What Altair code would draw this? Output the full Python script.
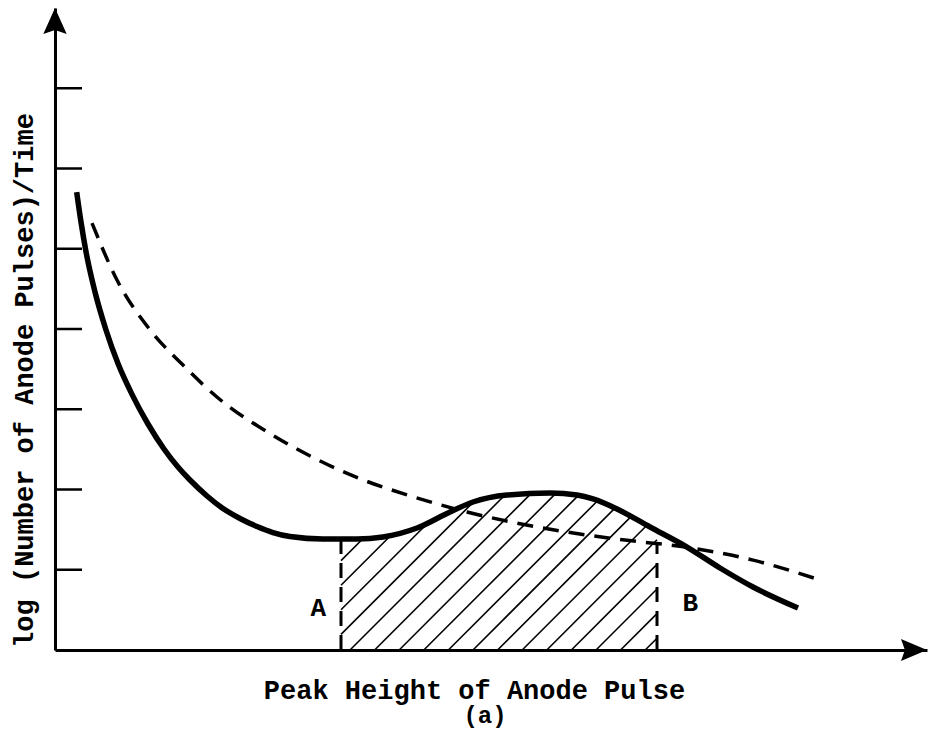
import numpy as np
import pandas as pd
import altair as alt

# ---------------- data ----------------
solid_x = [0.271, 0.325, 0.3875, 0.5, 0.6375, 0.7875, 0.9625, 1.1625, 1.3625, 1.5375,
           1.6875, 1.9, 2.1, 2.3125, 2.525, 2.725, 2.9375, 3.35, 3.775, 4.1, 4.525,
           4.9375, 5.225, 5.65, 6.1875, 6.525, 6.725, 7.025, 7.4375, 7.9, 8.3125,
           8.725, 9.2875]
solid_y = [5.707, 5.333, 4.963, 4.461, 3.988, 3.569, 3.185, 2.816, 2.505, 2.280,
           2.118, 1.919, 1.763, 1.639, 1.539, 1.464, 1.414, 1.383, 1.383, 1.408, 1.520,
           1.720, 1.844, 1.931, 1.956, 1.931, 1.882, 1.757, 1.533, 1.283, 1.022,
           0.785, 0.523]

dashed_x = [0.4625, 0.775, 1.1875, 1.6, 2.1, 2.65, 3.225, 3.85, 4.475, 5.15, 5.775,
            6.4, 7.125, 7.9, 8.725, 9.5375]
dashed_y = [5.32, 4.61, 3.99, 3.55, 3.09, 2.72, 2.40, 2.12, 1.91, 1.72, 1.58,
            1.47, 1.37, 1.28, 1.12, 0.88]

y_ticks = [1, 2, 3, 4, 5, 6, 7]

A_x = 3.575
B_x = 7.525
label_text = ["A", "B"]
label_x = [3.29, 7.94]
label_y = [0.52, 0.59]

hatch_first = 3.6875     # first hatch line crossing of the baseline
hatch_step = 0.3075      # spacing of hatch lines
hatch_slope = 80 / 80.25 # 45 degrees on screen

x_title = "Peak Height of Anode Pulse"
y_title = "log (Number of Anode Pulses)/Time"
sub_title = "(a)"

FONT = "Liberation Mono"
WEIGHT = "bold"

# ---------------- derived tables ----------------
sx_arr = np.array(solid_x)
sy_arr = np.array(solid_y)


def top(x):
    return np.interp(x, sx_arr, sy_arr)


hatch_rows = []
for k in range(-30, 40):
    x0 = hatch_first + hatch_step * k
    if x0 >= B_x:
        break
    if x0 >= A_x:
        sx, sy = x0, 0.0
    else:
        sx, sy = A_x, (A_x - x0) * hatch_slope
    if sy >= top(sx):
        continue
    grid = np.linspace(sx, B_x, 3000)
    diff = (grid - x0) * hatch_slope - top(grid)
    hit = np.where(diff >= 0)[0]
    ex = grid[hit[0]] if len(hit) else B_x
    ey = (ex - x0) * hatch_slope
    hatch_rows.append({"x": sx, "y": sy, "x2": ex, "y2": ey})
hatch_df = pd.DataFrame(hatch_rows)

solid_df = pd.DataFrame({"x": solid_x, "y": solid_y})
dashed_df = pd.DataFrame({"x": dashed_x, "y": dashed_y})
tick_df = pd.DataFrame({"y": y_ticks})
bounds_df = pd.DataFrame({
    "x": [A_x, B_x],
    "y": [0.0, 0.0],
    "y2": [float(top(A_x)), float(np.interp(B_x, dashed_x, dashed_y))],
})
labels_df = pd.DataFrame({"x": label_x, "y": label_y, "t": label_text})
sub_df = pd.DataFrame({"x": [5.375], "y": [-0.91], "t": [sub_title]})
arrow_up_df = pd.DataFrame({"x": [0.0], "y": [8.0]})
arrow_right_df = pd.DataFrame({"x": [10.9], "y": [0.0]})

# ---------------- scales / axes ----------------
xs = alt.Scale(domain=[0, 10.9], nice=False, zero=False)
ys = alt.Scale(domain=[0, 8], nice=False, zero=False)

x_axis = alt.Axis(title=x_title, ticks=False, labels=False, grid=False,
                  domainColor="black", domainWidth=3,
                  titleFont=FONT, titleFontSize=27, titleFontWeight=WEIGHT,
                  titleColor="black", titleX=419, titleY=48,
                  titleAlign="center", titleBaseline="alphabetic")
y_axis = alt.Axis(title=y_title, ticks=False, labels=False, grid=False,
                  domainColor="black", domainWidth=3,
                  titleFont=FONT, titleFontSize=27, titleFontWeight=WEIGHT,
                  titleColor="black", titleX=-23, titleY=372, titleAngle=270,
                  titleAlign="center", titleBaseline="alphabetic")

X = alt.X("x:Q", scale=xs, axis=x_axis)
Y = alt.Y("y:Q", scale=ys, axis=y_axis)

hatch = alt.Chart(hatch_df).mark_rule(color="black", strokeWidth=1.6).encode(
    x=X, y=Y, x2="x2:Q", y2="y2:Q")

bounds = alt.Chart(bounds_df).mark_rule(color="black", strokeWidth=3,
                                        strokeDash=[15, 9]).encode(
    x=X, y=Y, y2="y2:Q")

dashed = alt.Chart(dashed_df).mark_line(color="black", strokeWidth=3.5,
                                        strokeDash=[16, 10],
                                        interpolate="monotone").encode(x=X, y=Y)

solid = alt.Chart(solid_df).mark_line(color="black", strokeWidth=5.5,
                                      interpolate="monotone").encode(x=X, y=Y)

ticks = alt.Chart(tick_df).mark_rule(color="black", strokeWidth=2.5).encode(
    y=Y, x=alt.value(0), x2=alt.value(27))

arrow_up = alt.Chart(arrow_up_df).mark_point(
    shape="M0,0 L0.9,2 L0,1.7 L-0.9,2 Z", size=676, filled=True,
    color="black", opacity=1).encode(x=X, y=Y)

arrow_right = alt.Chart(arrow_right_df).mark_point(
    shape="M0,0 L-2,-0.85 L-1.7,0 L-2,0.85 Z", size=676, filled=True,
    color="black", opacity=1).encode(x=X, y=Y)

labels = alt.Chart(labels_df).mark_text(font=FONT, fontSize=26, fontWeight=WEIGHT,
                                        color="black",
                                        align="center", baseline="middle").encode(
    x=X, y=Y, text="t:N")

sub = alt.Chart(sub_df).mark_text(font=FONT, fontSize=24, fontWeight=WEIGHT,
                                  color="black",
                                  align="center", baseline="alphabetic").encode(
    x=X, y=Y, text="t:N")

chart = alt.layer(hatch, bounds, dashed, solid, ticks, arrow_up, arrow_right,
                  labels, sub).properties(
    width=872, height=642,
    padding={"left": 47, "top": 0, "right": 1, "bottom": 79},
    autosize=alt.AutoSizeParams(type="none"),
    background="white",
).configure_view(stroke=None)

chart.save("out.html", embed_options={"renderer": "svg", "actions": False})
